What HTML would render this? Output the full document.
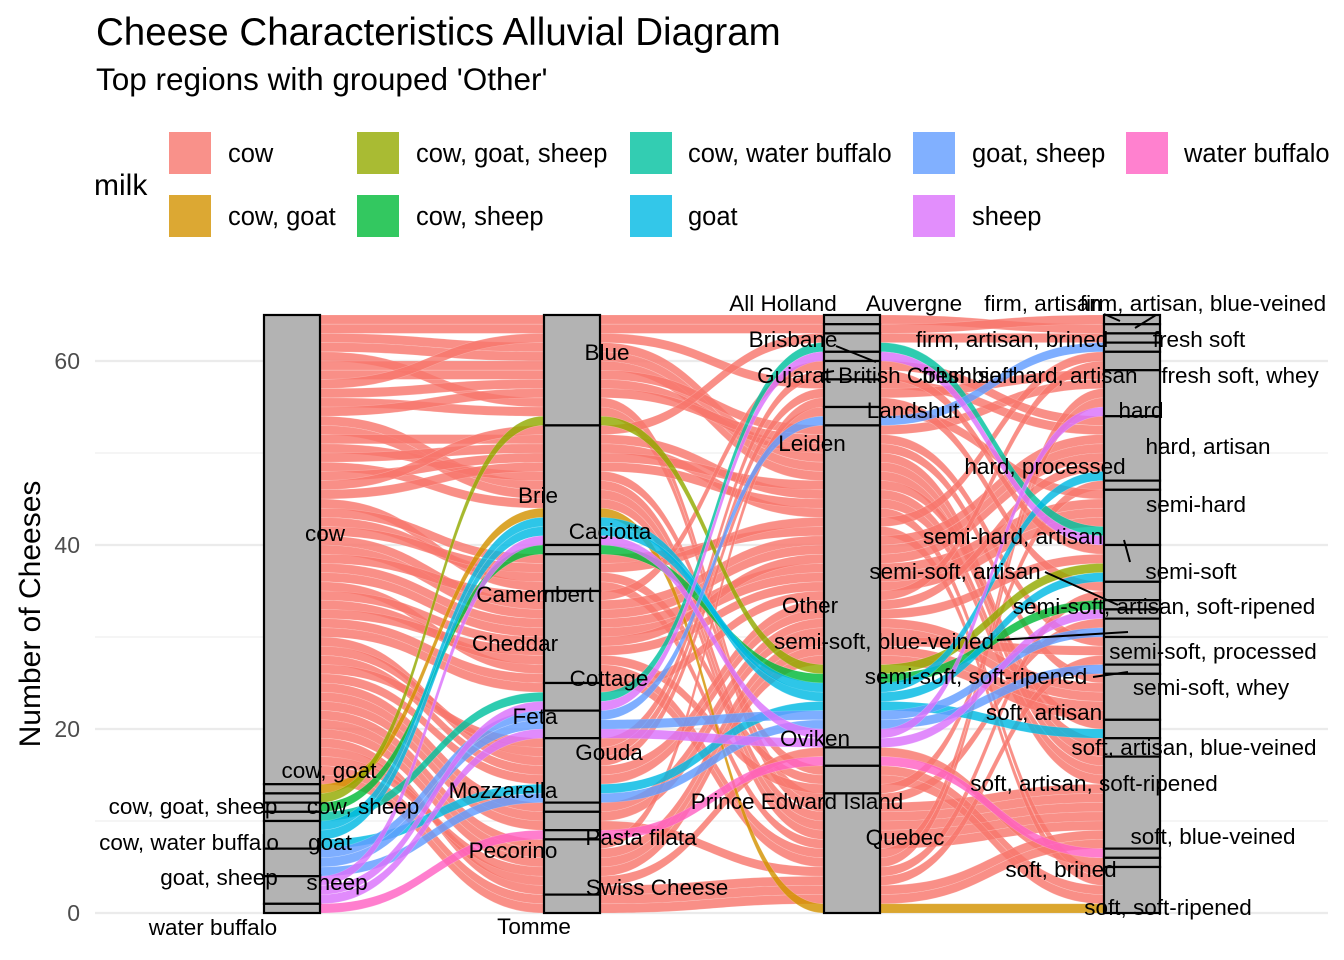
<!DOCTYPE html>
<html><head><meta charset="utf-8"><style>
html,body{margin:0;padding:0;background:#fff;}
svg{display:block;font-family:"Liberation Sans",Arial,sans-serif;}
</style></head><body>
<svg id="chart" width="1344" height="960" viewBox="0 0 1344 960" xmlns="http://www.w3.org/2000/svg">
<text x="96" y="45" font-size="38.5" fill="#000">Cheese Characteristics Alluvial Diagram</text>
<text x="96" y="90" font-size="31.5" fill="#000">Top regions with grouped 'Other'</text>
<g id="legend">
<text x="94" y="195" font-size="30">milk</text>
</g>
<g id="grid"></g>
<g id="yaxis"></g>
<text transform="translate(40,614) rotate(-90)" text-anchor="middle" font-size="30">Number of Cheeses</text>
<g id="flows"></g>
<g id="strata"></g>
<g id="labels" font-size="22.5" text-anchor="middle" fill="#000">
<g stroke="#000" stroke-width="2">
<line x1="836" y1="346" x2="876" y2="362"/><line x1="834" y1="371" x2="822" y2="373"/>
<line x1="1104" y1="314" x2="1120" y2="321"/><line x1="1135" y1="328" x2="1156" y2="315"/>
<line x1="1124" y1="540" x2="1130" y2="562"/><line x1="1045" y1="572" x2="1118" y2="605"/>
<line x1="997" y1="640" x2="1128" y2="632"/><line x1="1093" y1="677" x2="1128" y2="672"/>
</g>
<text x="325" y="541">cow</text><text x="329" y="778">cow, goat</text><text x="193" y="814">cow, goat, sheep</text>
<text x="363" y="814">cow, sheep</text><text x="189" y="850">cow, water buffalo</text><text x="330" y="850">goat</text>
<text x="219" y="885">goat, sheep</text><text x="337" y="890">sheep</text><text x="213" y="935">water buffalo</text>
<text x="607" y="360">Blue</text><text x="538" y="503">Brie</text><text x="610" y="539">Caciotta</text>
<text x="535" y="602">Camembert</text><text x="515" y="651">Cheddar</text><text x="609" y="686">Cottage</text>
<text x="535" y="724">Feta</text><text x="609" y="760">Gouda</text><text x="503" y="798">Mozzarella</text>
<text x="641" y="845">Pasta filata</text><text x="513" y="858">Pecorino</text><text x="657" y="895">Swiss Cheese</text>
<text x="534" y="934">Tomme</text>
<text x="783" y="311">All Holland</text><text x="914" y="311">Auvergne</text><text x="793" y="347">Brisbane</text>
<text x="920" y="383">British Columbia</text><text x="794" y="383">Gujarat</text><text x="913" y="418">Landshut</text>
<text x="812" y="451">Leiden</text><text x="810" y="613">Other</text><text x="815" y="746">Oviken</text>
<text x="797" y="809">Prince Edward Island</text><text x="905" y="845">Quebec</text>
<text x="1043" y="311">firm, artisan</text><text x="1203" y="311">firm, artisan, blue-veined</text>
<text x="1012" y="347">firm, artisan, brined</text><text x="1199" y="347">fresh soft</text>
<text x="968" y="383">fresh soft</text><text x="1075" y="383">hard, artisan</text>
<text x="1240" y="383">fresh soft, whey</text><text x="1141" y="418">hard</text><text x="1208" y="454">hard, artisan</text>
<text x="1045" y="474">hard, processed</text><text x="1196" y="512">semi-hard</text><text x="1013" y="544">semi-hard, artisan</text>
<text x="1191" y="579">semi-soft</text><text x="955" y="579">semi-soft, artisan</text>
<text x="1164" y="614">semi-soft, artisan, soft-ripened</text><text x="884" y="649">semi-soft, blue-veined</text>
<text x="1213" y="659">semi-soft, processed</text><text x="976" y="684">semi-soft, soft-ripened</text>
<text x="1211" y="695">semi-soft, whey</text><text x="1044" y="720">soft, artisan</text>
<text x="1194" y="755">soft, artisan, blue-veined</text><text x="1094" y="791">soft, artisan, soft-ripened</text>
<text x="1213" y="844">soft, blue-veined</text><text x="1061" y="877">soft, brined</text><text x="1168" y="915">soft, soft-ripened</text>
</g>
</svg>
<script>
const milkLevels = ["cow","cow, goat","cow, goat, sheep","cow, sheep","cow, water buffalo","goat","goat, sheep","sheep","water buffalo"];
const milkColors = ["#F8766D","#D39200","#93AA00","#00BA38","#00C19F","#00B9E3","#619CFF","#DB72FB","#FF61C3"];
const typeLevels = ["Blue","Brie","Caciotta","Camembert","Cheddar","Cottage","Feta","Gouda","Mozzarella","Pasta filata","Pecorino","Swiss Cheese","Tomme"];
const regionLevels = ["All Holland","Auvergne","Brisbane","British Columbia","Gujarat","Landshut","Leiden","Other","Oviken","Prince Edward Island","Quebec"];
const textureLevels = ["firm, artisan","firm, artisan, blue-veined","firm, artisan, brined","fresh soft","fresh soft, whey","hard","hard, artisan","hard, processed","semi-hard","semi-hard, artisan","semi-soft","semi-soft, artisan","semi-soft, artisan, soft-ripened","semi-soft, blue-veined","semi-soft, processed","semi-soft, soft-ripened","semi-soft, whey","soft, artisan","soft, artisan, blue-veined","soft, artisan, soft-ripened","soft, blue-veined","soft, brined","soft, soft-ripened"];
const yTicks = [0,20,40,60];
// cheeses: [milk, type, region, texture] (indices into level arrays)
const cheeses = [
[0,0,0,1],[0,0,1,0],[0,0,7,18],[0,0,7,18],[0,0,10,13],[0,0,7,19],[0,0,7,5],[0,0,5,6],[0,0,7,16],[0,0,10,19],[0,0,7,14],
[0,1,10,19],[0,1,10,19],[0,1,7,19],[0,1,9,22],[0,1,7,22],[0,1,10,19],[0,1,7,17],[0,1,2,2],[0,1,7,19],
[0,3,10,19],[0,3,7,22],[0,3,9,22],[0,3,7,4],
[0,4,7,6],[0,4,7,6],[0,4,4,6],[0,4,7,8],[0,4,7,8],[0,4,10,5],[0,4,7,6],[0,4,9,7],[0,4,7,8],[0,4,10,5],
[0,5,7,4],
[0,7,6,8],[0,7,5,5],[0,7,7,6],[0,7,4,9],[0,7,7,9],
[0,8,7,16],[0,9,7,16],[0,9,10,10],
[0,11,5,10],[0,11,7,14],[0,11,7,16],[0,11,10,14],[0,11,8,21],[0,11,7,16],
[0,12,10,19],[0,12,10,19],
[1,1,10,22],
[2,0,7,9],
[3,2,7,11],
[4,5,2,8],
[5,1,7,9],[5,1,7,6],[5,7,7,17],
[6,6,6,3],[6,7,7,15],[6,6,7,13],
[7,1,7,5],[7,6,7,12],[7,5,3,8],
[8,10,8,20]
];
const NS="http://www.w3.org/2000/svg";
const svg=document.getElementById('chart');
const y0=913, unit=9.2;
function yScale(v){return y0-v*unit;}
const axisX=[264,544,824,1104], sw=56;
function mk(tag,attrs,parent){const e=document.createElementNS(NS,tag);for(const k in attrs)e.setAttribute(k,attrs[k]);parent.appendChild(e);return e;}
const grid=document.getElementById('grid');
for(let v=0;v<=65;v+=10){
  const l=mk('line',{x1:95,x2:1328,y1:yScale(v),y2:yScale(v),stroke:'#ebebeb','stroke-width':(v%20===0)?2.2:1.1},grid);
  
  
}
const ya=document.getElementById('yaxis');
yTicks.forEach(t=>{
  const tx=mk('text',{x:80,y:yScale(t)+8,'text-anchor':'end','font-size':23,fill:'#4d4d4d'},ya);
  tx.textContent=t;
  
  
});
const lg=document.getElementById('legend');
const keyX=[169,357,630,913,1126], keyY=[132,195], labX=[228,416,688,972,1184];
milkLevels.forEach((m,i)=>{
  const col=Math.floor(i/2), row=i%2;
  const r=mk('rect',{x:keyX[col],y:keyY[row],width:42,height:42,fill:milkColors[i],opacity:0.8},lg);
  
  
  const t=mk('text',{x:labX[col],y:keyY[row]+30,'font-size':25.5},lg);
  t.textContent=m;
  
  
});
const nAx=4;
const pos=cheeses.map(()=>[0,0,0,0]);
const stratumBounds=[];
for(let a=0;a<nAx;a++){
  const idx=cheeses.map((c,i)=>i);
  idx.sort((p,q)=>{
    const A=cheeses[p],B=cheeses[q];
    if(A[a]!==B[a])return A[a]-B[a];
    if(A[0]!==B[0])return A[0]-B[0];
    const nb=a>0?a-1:1;
    if(A[nb]!==B[nb])return A[nb]-B[nb];
    const nb2=a<3?a+1:2;
    if(A[nb2]!==B[nb2])return A[nb2]-B[nb2];
    return p-q;
  });
  let top=cheeses.length;
  const bounds={};
  idx.forEach(i=>{
    const s=cheeses[i][a];
    if(!bounds[s])bounds[s]=[top,top];
    pos[i][a]=top;top-=1;bounds[s][1]=top;
  });
  stratumBounds.push(bounds);
}
const fg=document.getElementById('flows');
cheeses.forEach((c,i)=>{
  let d='';
  for(let a=0;a<nAx-1;a++){
    const xa=axisX[a]+sw, xb=axisX[a+1], xm=(xa+xb)/2;
    const t1=yScale(pos[i][a]), b1=yScale(pos[i][a]-1), t2=yScale(pos[i][a+1]), b2=yScale(pos[i][a+1]-1);
    d+=`M${xa-sw},${t1}L${xa},${t1}C${xm},${t1} ${xm},${t2} ${xb},${t2}L${xb+sw},${t2}L${xb+sw},${b2}L${xb},${b2}C${xm},${b2} ${xm},${b1} ${xa},${b1}L${xa-sw},${b1}Z`;
  }
  const p=mk('path',{d:d,fill:milkColors[c[0]],'fill-opacity':0.82,stroke:'#ffffff','stroke-opacity':0.25,'stroke-width':0.6},fg);
  
  
});
const sg=document.getElementById('strata');
stratumBounds.forEach((b,a)=>{
  for(const s in b){
    const r=mk('rect',{x:axisX[a],y:yScale(b[s][0]),width:sw,height:(b[s][0]-b[s][1])*unit,fill:'#b3b3b3',stroke:'#000','stroke-width':2.2},sg);
    
    
  }
});
</script>
</body></html>
